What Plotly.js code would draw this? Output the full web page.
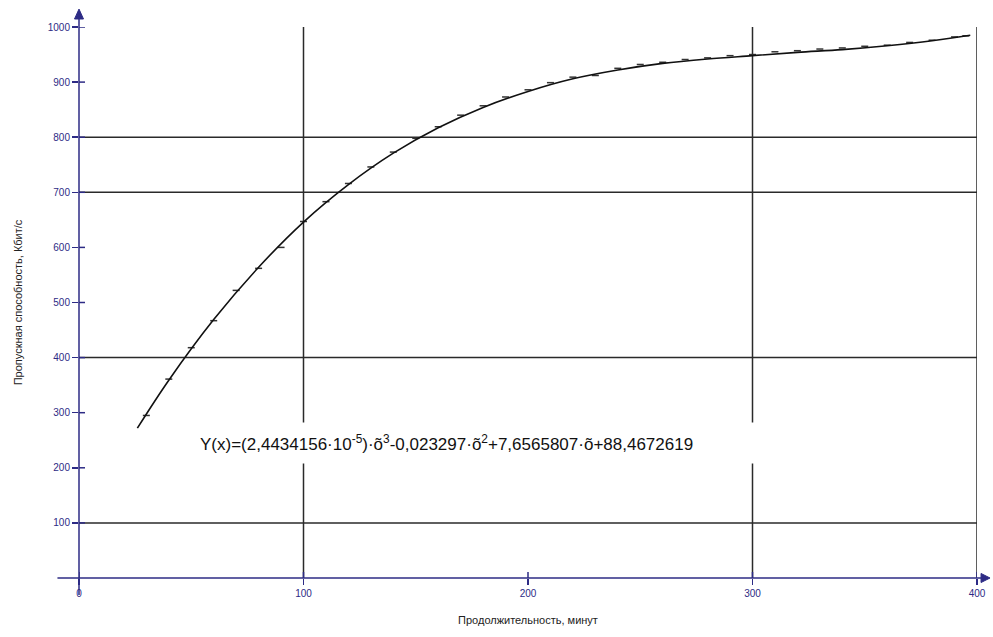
<!DOCTYPE html>
<html>
<head>
<meta charset="utf-8">
<script src="https://cdn.plot.ly/plotly-3.0.1.min.js"></script>
<style>
html,body{margin:0;padding:0;background:#fff;}
#chart{width:993px;height:637px;}
</style>
</head>
<body>
<div id="chart"></div>
<script>
// Fitted curve
var fitX = [26, 40, 60, 80, 100, 120, 140, 160, 180, 200, 220, 240, 260, 280, 300, 320, 340, 360, 380, 397];
var fitY = [272, 359, 469, 564, 646, 714, 771, 817, 854, 883, 906, 922, 934, 942, 948, 954, 959, 966, 975, 985];

var obsX = [30, 40, 50, 60, 70, 80, 90, 100, 110, 120, 130, 140, 150, 160, 170, 180, 190, 200, 210, 220, 230, 240, 250, 260, 270, 280, 290, 300, 310, 320, 330, 340, 350, 360, 370, 380, 390, 395];
var obsY = [295, 361, 418, 467, 522, 562, 600, 647, 683, 716, 746, 773, 798, 819, 840, 857, 873, 886, 899, 909, 912, 925, 932, 936, 941, 944, 948, 950, 955, 957, 960, 962, 965, 967, 972, 976, 982, 984];

var xTicks = [0, 100, 200, 300, 400];
var xTickText = ['0', '100', '200', '300', '400'];
var yTicks = [100, 200, 300, 400, 500, 600, 700, 800, 900, 1000];
var yTickText = ['100', '200', '300', '400', '500', '600', '700', '800', '900', '1000'];
var gridX = [100, 300, 400];
var gridY = [100, 400, 700, 800];

var equation = 'Y(x)=(2,4434156·10<sup>-5</sup>)·õ<sup>3</sup>-0,023297·õ<sup>2</sup>+7,6565807·õ+88,4672619';
var xTitle = 'Продолжительность, минут';
var yTitle = 'Пропускная способность, Кбит/с';

var navy = '#2d2b85';
var gridColor = '#2a2a2a';

var traces = [
  {x: obsX, y: obsY, type: 'scatter', mode: 'markers', hoverinfo: 'skip',
   marker: {symbol: 'line-ew-open', size: 5, color: '#333', line: {color: '#333', width: 1.5}}},
  {x: fitX, y: fitY, type: 'scatter', mode: 'lines', line: {color: '#111', width: 1.6, shape: 'spline'}, hoverinfo: 'skip'}
];

var shapes = [];
gridX.forEach(function (v) {
  shapes.push({type: 'line', xref: 'x', yref: 'y', x0: v, x1: v, y0: 0, y1: 1004, line: {color: gridColor, width: 1.5}, layer: 'below'});
});
gridY.forEach(function (v) {
  shapes.push({type: 'line', xref: 'x', yref: 'y', x0: 0, x1: 400, y0: v, y1: v, line: {color: gridColor, width: 1.5}, layer: 'below'});
});
// inner halves of the crossing tick marks
xTicks.forEach(function (v) {
  shapes.push({type: 'line', xref: 'x', yref: 'paper', x0: v, x1: v, y0: 0, y1: 0.011, line: {color: navy, width: 1.5}});
});
yTicks.forEach(function (v) {
  shapes.push({type: 'line', xref: 'paper', yref: 'y', x0: 0, x1: 0.0067, y0: v, y1: v, line: {color: navy, width: 1.5}});
});
// axis lines (extend past origin) and arrow heads
shapes.push({type: 'line', xref: 'paper', yref: 'paper', x0: -0.024, x1: 1.008, y0: 0, y1: 0, line: {color: navy, width: 1.5}});
shapes.push({type: 'line', xref: 'paper', yref: 'paper', x0: 0, x1: 0, y0: -0.031, y1: 1.02, line: {color: navy, width: 1.5}});
shapes.push({type: 'path', xref: 'paper', yref: 'paper', path: 'M1.0145,0 L1.0045,0.0082 L1.0045,-0.0082 Z', fillcolor: navy, line: {color: navy, width: 1}});
shapes.push({type: 'path', xref: 'paper', yref: 'paper', path: 'M0,1.0325 L-0.005,1.0145 L0.005,1.0145 Z', fillcolor: navy, line: {color: navy, width: 1}});

var layout = {
  width: 993, height: 637,
  margin: {l: 79, r: 16, t: 27, b: 59},
  paper_bgcolor: '#fff', plot_bgcolor: '#fff',
  showlegend: false,
  font: {family: 'Liberation Sans, Arial, sans-serif', color: '#000'},
  xaxis: {
    range: [0, 400], showgrid: false, zeroline: false, showline: false,
    tickvals: xTicks, ticktext: xTickText, ticks: 'outside', ticklen: 6, tickwidth: 1.5, tickcolor: navy,
    tickfont: {size: 10, color: navy},
    title: {text: xTitle, font: {size: 11, color: '#222'}, standoff: 18}
  },
  yaxis: {
    range: [0, 1000], showgrid: false, zeroline: false, showline: false,
    tickvals: yTicks, ticktext: yTickText, ticks: 'outside', ticklen: 6, tickwidth: 1.5, tickcolor: navy,
    tickfont: {size: 10, color: navy},
    title: {text: yTitle, font: {size: 11, color: '#222'}, standoff: 22}
  },
  shapes: shapes,
  annotations: [
    {xref: 'x', yref: 'y', x: 178.6, y: 245, text: equation, showarrow: false,
     bgcolor: '#fff', width: 560, height: 38, align: 'left', xanchor: 'center', yanchor: 'middle',
     font: {size: 17, color: '#111', family: 'Liberation Sans, Arial, sans-serif'}}
  ]
};

Plotly.newPlot('chart', traces, layout, {displayModeBar: false, staticPlot: true});
</script>
</body>
</html>
